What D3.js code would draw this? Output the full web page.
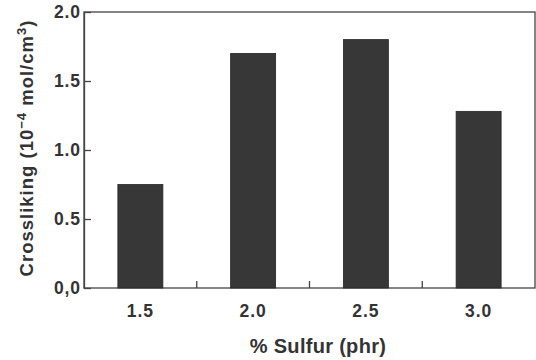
<!DOCTYPE html>
<html><head><meta charset="utf-8">
<script src="https://cdn.jsdelivr.net/npm/d3@7"></script>
<style>html,body{margin:0;padding:0;background:#fff;}svg{display:block;}</style>
</head><body>
<script>
const categories = ["1.5", "2.0", "2.5", "3.0"];
const values = [0.75, 1.70, 1.80, 1.28];
const yTicks = [0, 0.5, 1.0, 1.5, 2.0];
const yTickLabels = ["0,0", "0.5", "1.0", "1.5", "2.0"];

const W = 536, H = 360;
const m = {left: 84, right: 1, top: 12, bottom: 72};
const svg = d3.select("body").append("svg").attr("width", W).attr("height", H);
const xb = d3.scaleBand().domain(categories).range([m.left, W - m.right]);
const y = d3.scaleLinear().domain([0, 2]).range([H - m.bottom, m.top]);
const font = "'Liberation Sans', Arial, sans-serif";

// frame
svg.append("rect").attr("x", m.left).attr("y", m.top)
  .attr("width", W - m.right - m.left).attr("height", H - m.bottom - m.top)
  .attr("fill", "none").attr("stroke", "#444").attr("stroke-width", 1.3);

// bars
svg.selectAll(".bar").data(values).enter().append("rect")
  .attr("x", (d, i) => xb(categories[i]) + xb.bandwidth() / 2 - 22.5)
  .attr("width", 45)
  .attr("y", d => y(d)).attr("height", d => y(0) - y(d))
  .attr("fill", "#373737").attr("stroke", "#262626").attr("stroke-width", 0.8);

// y axis
const yAxis = d3.axisLeft(y).tickValues(yTicks).tickSizeInner(-7).tickSizeOuter(0)
  .tickFormat((d, i) => yTickLabels[i]).tickPadding(4);
const gy = svg.append("g").attr("transform", `translate(${m.left},0)`).call(yAxis);
gy.select(".domain").attr("stroke", "#444").attr("stroke-width", 1.3);
gy.selectAll(".tick line").attr("stroke", "#444").attr("stroke-width", 1.3);
gy.selectAll(".tick text").attr("font-family", font).attr("font-weight", "bold")
  .attr("font-size", 17.5).attr("letter-spacing", 0.9).attr("fill", "#333").attr("dx", 1);

// x axis: boundary ticks
const bounds = categories.slice(1).map(c => xb(c));
svg.selectAll(".xt").data(bounds).enter().append("line")
  .attr("x1", d => d).attr("x2", d => d)
  .attr("y1", y(0)).attr("y2", y(0) - 7)
  .attr("stroke", "#444").attr("stroke-width", 1.3);
svg.selectAll(".xl").data(categories).enter().append("text")
  .attr("x", d => xb(d) + xb.bandwidth() / 2)
  .attr("y", 317)
  .attr("text-anchor", "middle")
  .attr("font-family", font).attr("font-weight", "bold").attr("font-size", 17.5)
  .attr("letter-spacing", 0.9).attr("fill", "#333")
  .text(d => d);

// axis titles
svg.append("text").attr("x", 318).attr("y", 353).attr("text-anchor", "middle")
  .attr("font-family", font).attr("font-weight", "bold").attr("font-size", 20)
  .attr("letter-spacing", 0.3).attr("fill", "#333")
  .text("% Sulfur (phr)");

const yt = svg.append("text").attr("transform", "translate(33,148) rotate(-90)")
  .attr("text-anchor", "middle")
  .attr("font-family", font).attr("font-weight", "bold").attr("font-size", 18.5)
  .attr("letter-spacing", 1).attr("fill", "#333");
yt.append("tspan").text("Crossliking (10");
yt.append("tspan").attr("font-size", 13).attr("dy", -7).text("−4");
yt.append("tspan").attr("dy", 7).text(" mol/cm");
yt.append("tspan").attr("font-size", 13).attr("dy", -7).text("3");
yt.append("tspan").attr("dy", 7).text(")");
</script>
</body></html>
